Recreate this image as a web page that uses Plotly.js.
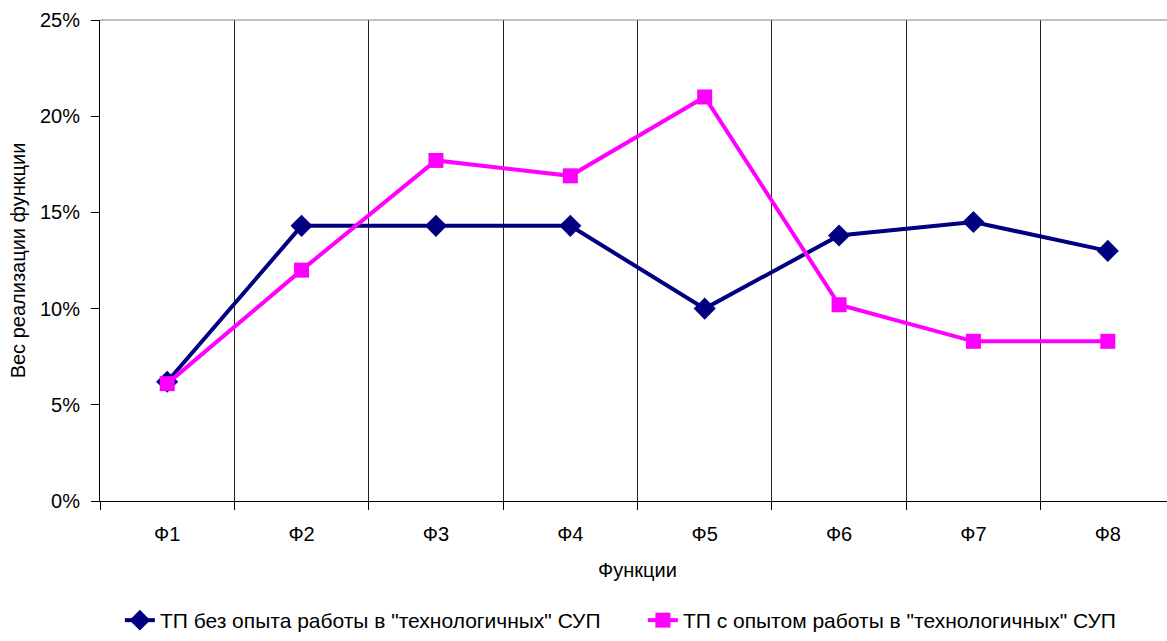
<!DOCTYPE html>
<html>
<head>
<meta charset="utf-8">
<script src="https://cdn.plot.ly/plotly-3.0.1.min.js"></script>
<style>
html,body{margin:0;padding:0;overflow:hidden;background:#fff;}
#chart{width:1200px;height:641px;}
</style>
</head>
<body>
<div id="chart"></div>
<script>
const categories = ["Ф1","Ф2","Ф3","Ф4","Ф5","Ф6","Ф7","Ф8"];
const seriesNames = ["ТП без опыта работы в \"технологичных\" СУП", "ТП с опытом работы в \"технологичных\" СУП"];
const withoutExperience = [0.062, 0.143, 0.143, 0.143, 0.100, 0.138, 0.145, 0.130];
const withExperience = [0.061, 0.120, 0.177, 0.169, 0.210, 0.102, 0.083, 0.083];

const fontFam = "Liberation Sans, Arial, sans-serif";

const traces = [
  {
    x: categories, y: withoutExperience, name: seriesNames[0],
    type: "scatter", mode: "lines+markers",
    line: {color: "#000080", width: 4},
    marker: {symbol: "diamond", size: 17, color: "#000080"}
  },
  {
    x: categories, y: withExperience, name: seriesNames[1],
    type: "scatter", mode: "lines+markers",
    line: {color: "#FF00FF", width: 4},
    marker: {symbol: "square", size: 15, color: "#FF00FF"}
  }
];

const layout = {
  width: 1200, height: 641,
  margin: {l: 100, r: 25, t: 20, b: 140},
  paper_bgcolor: "#fff", plot_bgcolor: "#fff",
  font: {family: fontFam, size: 20, color: "#000"},
  showlegend: true,
  legend: {
    orientation: "h", x: 0.505, xanchor: "center",
    yref: "container", y: -0.008, yanchor: "bottom",
    font: {family: fontFam, size: 21, color: "#000"},
    itemwidth: 30, tracegroupgap: 0, entrywidth: 478, borderwidth: 0
  },
  xaxis: {
    type: "category", range: [-0.5, 7.5], automargin: false,
    tickson: "boundaries", ticks: "outside", ticklen: 8, tickcolor: "#000", tickwidth: 1,
    ticklabelstandoff: 15,
    showgrid: true, gridcolor: "#222", gridwidth: 1,
    showline: true, linecolor: "#000", linewidth: 1,
    zeroline: false,
    tickfont: {family: fontFam, size: 20, color: "#000"},
    title: {text: "Функции", font: {family: fontFam, size: 20, color: "#000"}, standoff: 18}
  },
  yaxis: {
    range: [0, 0.25], dtick: 0.05, tickformat: ".0%", automargin: false,
    ticks: "outside", ticklen: 8, tickcolor: "#000", tickwidth: 1,
    ticklabelstandoff: 7,
    showgrid: false, zeroline: false,
    showline: true, linecolor: "#000", linewidth: 1,
    tickfont: {family: fontFam, size: 20, color: "#000"},
    title: {text: "Вес реализации функции", font: {family: fontFam, size: 20, color: "#000"}, standoff: 8}
  },
  shapes: [
    {type: "line", xref: "paper", yref: "paper", x0: 0, x1: 1, y0: 1, y1: 1, line: {color: "#808080", width: 1}}
  ]
};

Plotly.newPlot("chart", traces, layout, {displayModeBar: false, staticPlot: true});
</script>
</body>
</html>
